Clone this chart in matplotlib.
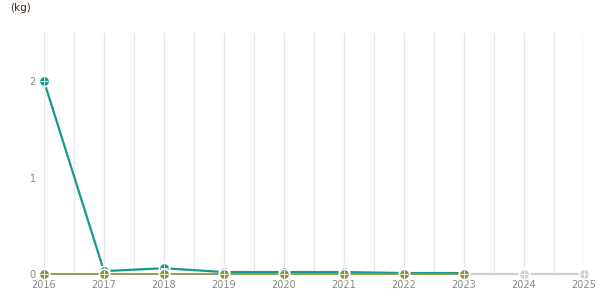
import matplotlib
matplotlib.use("Agg")
import matplotlib.pyplot as plt
import numpy as np

years = [2016, 2017, 2018, 2019, 2020, 2021, 2022, 2023, 2024, 2025]
teal_years = [2016, 2017, 2018, 2019, 2020, 2021, 2022, 2023]
teal_vals = [2.0, 0.03, 0.06, 0.02, 0.02, 0.02, 0.01, 0.01]
olive_years = [2016, 2017, 2018, 2019, 2020, 2021, 2022, 2023]
olive_vals = [0, 0, 0, 0, 0, 0, 0, 0]
gray_years = [2023, 2024, 2025]
gray_vals = [0, 0, 0]
yticks = [0, 1, 2]

W, H = 615, 305
fig = plt.figure(figsize=(W/100, H/100), dpi=100)
ax = fig.add_axes([44/W, 31/H, 540/W, 241/H])
ax.set_xlim(2016, 2025)
ax.set_ylim(0, 2.5)
for s in ax.spines.values():
    s.set_visible(False)

for gx in np.arange(2016, 2025.01, 0.5):
    ax.axvline(gx, color="#e8e8e8", lw=1, zorder=0)

teal = "#13998f"
olive = "#8a963f"
gray = "#cfcfcf"

ms = 7.5
def series(xs, ys, c, lw, z):
    ax.plot(xs, ys, color=c, lw=lw, zorder=z, solid_capstyle="butt", clip_on=False)
    ax.plot(xs, ys, 'o', color=c, ms=ms, mec="white", mew=1.2, zorder=z+0.5, clip_on=False)
    ax.plot(xs, ys, '+', color="white", ms=ms*0.75, mew=0.6, zorder=z+0.6, clip_on=False)

series(gray_years, gray_vals, gray, 1.6, 2)
series(teal_years, teal_vals, teal, 1.6, 3)
series(olive_years, olive_vals, olive, 1.3, 4)

ax.set_xticks(years)
ax.set_xticklabels([str(y) for y in years])
ax.set_yticks(yticks)
ax.set_yticklabels([str(v) for v in yticks])
ax.tick_params(axis="both", length=0, labelsize=7, labelcolor="#888888")
ax.tick_params(axis="x", pad=4)
ax.tick_params(axis="y", pad=6)

fig.text(10/W, 1 - 8/H, "(kg)", fontsize=7.5, color="#3a2a10", va="center", ha="left")

fig.savefig("out.png", dpi=100)
